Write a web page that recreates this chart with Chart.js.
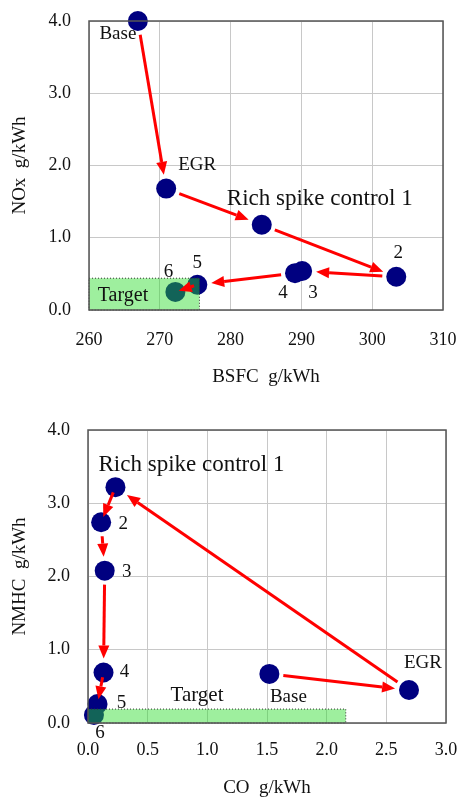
<!DOCTYPE html>
<html>
<head>
<meta charset="utf-8">
<script src="https://cdn.jsdelivr.net/npm/chart.js@4"></script>
<style>
body { margin: 0; background: #fff; }
canvas { display: block; }
</style>
</head>
<body>
<canvas id="noxChart" width="459" height="395"></canvas>
<canvas id="hcChart" width="459" height="406"></canvas>
<script>
// Operating points, same order in both plots
const pointNames = ['Base', 'EGR', 'Rich spike control 1', '2', '3', '4', '5', '6'];

// NOx vs BSFC
const bsfc = [266.9, 270.9, 284.4, 303.4, 290.1, 289.1, 275.3, 272.2];
const nox = [4.0, 1.68, 1.18, 0.46, 0.54, 0.51, 0.35, 0.25];
const bsfcTicks = [260, 270, 280, 290, 300, 310];
const noxTicks = [0, 1, 2, 3, 4];
const noxTargetX = [260, 275.6];
const noxTargetY = [0, 0.44];
const noxArrows = [[0, 1], [1, 2], [2, 3], [3, 4], [5, 6], [6, 7]];

// NMHC vs CO
const co = [1.52, 2.69, 0.23, 0.11, 0.14, 0.13, 0.08, 0.05];
const nmhc = [0.67, 0.45, 3.22, 2.74, 2.08, 0.69, 0.26, 0.11];
const coTicks = [0, 0.5, 1, 1.5, 2, 2.5, 3];
const nmhcTicks = [0, 1, 2, 3, 4];
const hcTargetX = [0, 2.16];
const hcTargetY = [0, 0.19];
const hcArrows = [[0, 1], [1, 2], [2, 3], [3, 4], [4, 5], [5, 6]];

// label placement, pixel offsets from each point
const noxLabelPos = [[-20, 13], [31, -24], [58, -26], [2, -24], [11, 22], [-12, 20], [0, -22], [-7, -20]];
const hcLabelPos = [[19, 23], [14, -27], [76, -22], [22, 2], [22, 1], [21, 0], [24, -1], [6, 18]];

const serif = '"Liberation Serif", "Times New Roman", serif';
Chart.defaults.font.family = serif;
Chart.defaults.color = '#111';

function drawArrow(ctx, x1, y1, x2, y2) {
    const ang = Math.atan2(y2 - y1, x2 - x1);
    const head = 13, hw = 5.5;
    const c = Math.cos(ang), s = Math.sin(ang);
    ctx.beginPath();
    ctx.moveTo(x1, y1);
    ctx.lineTo(x2 - head * c, y2 - head * s);
    ctx.stroke();
    ctx.beginPath();
    ctx.moveTo(x2, y2);
    ctx.lineTo(x2 - head * c - hw * s, y2 - head * s + hw * c);
    ctx.lineTo(x2 - head * c + hw * s, y2 - head * s - hw * c);
    ctx.closePath();
    ctx.fill();
}

const overlay = {
    id: 'overlay',
    afterDatasetsDraw(chart, args, opts) {
        const { ctx, chartArea: a } = chart;
        const x = chart.scales.x, y = chart.scales.y;
        const px = opts.xs.map(v => x.getPixelForValue(v));
        const py = opts.ys.map(v => y.getPixelForValue(v));
        ctx.save();

        // target box (drawn over the points, semi transparent)
        const bx1 = x.getPixelForValue(opts.targetX[0]);
        const bx2 = x.getPixelForValue(opts.targetX[1]);
        const by1 = y.getPixelForValue(opts.targetY[1]);
        const by2 = y.getPixelForValue(opts.targetY[0]);
        ctx.fillStyle = 'rgba(40, 220, 40, 0.45)';
        ctx.fillRect(bx1, by1, bx2 - bx1, by2 - by1);
        ctx.setLineDash([1, 2]);
        ctx.strokeStyle = '#333';
        ctx.lineWidth = 1;
        ctx.strokeRect(bx1, by1, bx2 - bx1, by2 - by1);
        ctx.setLineDash([]);

        // arrows between points
        ctx.strokeStyle = '#ff0000';
        ctx.fillStyle = '#ff0000';
        ctx.lineWidth = 3;
        opts.arrows.forEach(([i, j]) => {
            const dx = px[j] - px[i], dy = py[j] - py[i];
            const d = Math.hypot(dx, dy);
            const gap = d >= 45 ? 14 : d * 0.15;
            const ux = dx / d, uy = dy / d;
            drawArrow(ctx, px[i] + ux * gap, py[i] + uy * gap, px[j] - ux * gap, py[j] - uy * gap);
        });

        // labels
        ctx.fillStyle = '#111';
        ctx.textAlign = 'center';
        ctx.textBaseline = 'middle';
        pointNames.forEach((name, i) => {
            const off = opts.labelPos[i];
            ctx.font = (i === 2 ? '23px ' : '19px ') + serif;
            ctx.fillText(name, px[i] + off[0], py[i] + off[1]);
        });
        ctx.font = opts.targetFont + ' ' + serif;
        ctx.fillText('Target', bx1 + opts.targetLabel[0], by1 + opts.targetLabel[1]);

        // plot frame
        ctx.strokeStyle = '#555';
        ctx.lineWidth = 1.5;
        ctx.strokeRect(a.left, a.top, a.width, a.height);
        ctx.restore();
    }
};

function makeChart(id, xs, ys, xTicks, yTicks, xTitle, yTitle, dec, sizes, extra) {
    const ctx = document.getElementById(id).getContext('2d');
    return new Chart(ctx, {
        type: 'scatter',
        data: {
            datasets: [{
                data: xs.map((v, i) => ({ x: v, y: ys[i] })),
                pointRadius: 10,
                pointHoverRadius: 10,
                pointBackgroundColor: '#000080',
                pointBorderWidth: 0,
                clip: false
            }]
        },
        options: {
            responsive: false,
            animation: false,
            layout: { padding: sizes.padding },
            plugins: {
                legend: { display: false },
                tooltip: { enabled: false },
                overlay: extra
            },
            scales: {
                x: {
                    type: 'linear',
                    min: xTicks[0],
                    max: xTicks[xTicks.length - 1],
                    afterBuildTicks: s => { s.ticks = xTicks.map(v => ({ value: v })); },
                    afterFit: s => { s.height = sizes.xHeight; },
                    grid: { color: '#c8c8c8', tickLength: sizes.xPad, tickColor: 'rgba(0,0,0,0)' },
                    border: { display: false },
                    ticks: {
                        padding: 0,
                        font: { size: 18 },
                        callback: v => dec ? v.toFixed(1) : v
                    },
                    title: {
                        display: true,
                        text: xTitle,
                        font: { size: 19 },
                        padding: { top: 0, bottom: sizes.xTitlePad }
                    }
                },
                y: {
                    type: 'linear',
                    min: yTicks[0],
                    max: yTicks[yTicks.length - 1],
                    afterBuildTicks: s => { s.ticks = yTicks.map(v => ({ value: v })); },
                    afterFit: s => { s.width = sizes.yWidth; },
                    grid: { color: '#c8c8c8', tickLength: 18, tickColor: 'rgba(0,0,0,0)' },
                    border: { display: false },
                    ticks: {
                        padding: 0,
                        font: { size: 18 },
                        callback: v => v.toFixed(1)
                    },
                    title: {
                        display: true,
                        text: yTitle,
                        font: { size: 19 },
                        padding: { top: 9, bottom: 0 }
                    }
                }
            }
        },
        plugins: [overlay]
    });
}

makeChart('noxChart', bsfc, nox, bsfcTicks, noxTicks, 'BSFC  g/kWh', 'NOx  g/kWh', false,
    { padding: { top: 21, right: 16, left: 0, bottom: 0 }, xHeight: 85, yWidth: 89, xPad: 19, xTitlePad: 7 },
    { xs: bsfc, ys: nox, arrows: noxArrows, labelPos: noxLabelPos,
      targetX: noxTargetX, targetY: noxTargetY, targetLabel: [34, 18], targetFont: '20px' });

makeChart('hcChart', co, nmhc, coTicks, nmhcTicks, 'CO  g/kWh', 'NMHC  g/kWh', true,
    { padding: { top: 35, right: 13, left: 0, bottom: 0 }, xHeight: 78, yWidth: 88, xPad: 16, xTitlePad: 2 },
    { xs: co, ys: nmhc, arrows: hcArrows, labelPos: hcLabelPos,
      targetX: hcTargetX, targetY: hcTargetY, targetLabel: [109, -14], targetFont: '21px' });
</script>
</body>
</html>
